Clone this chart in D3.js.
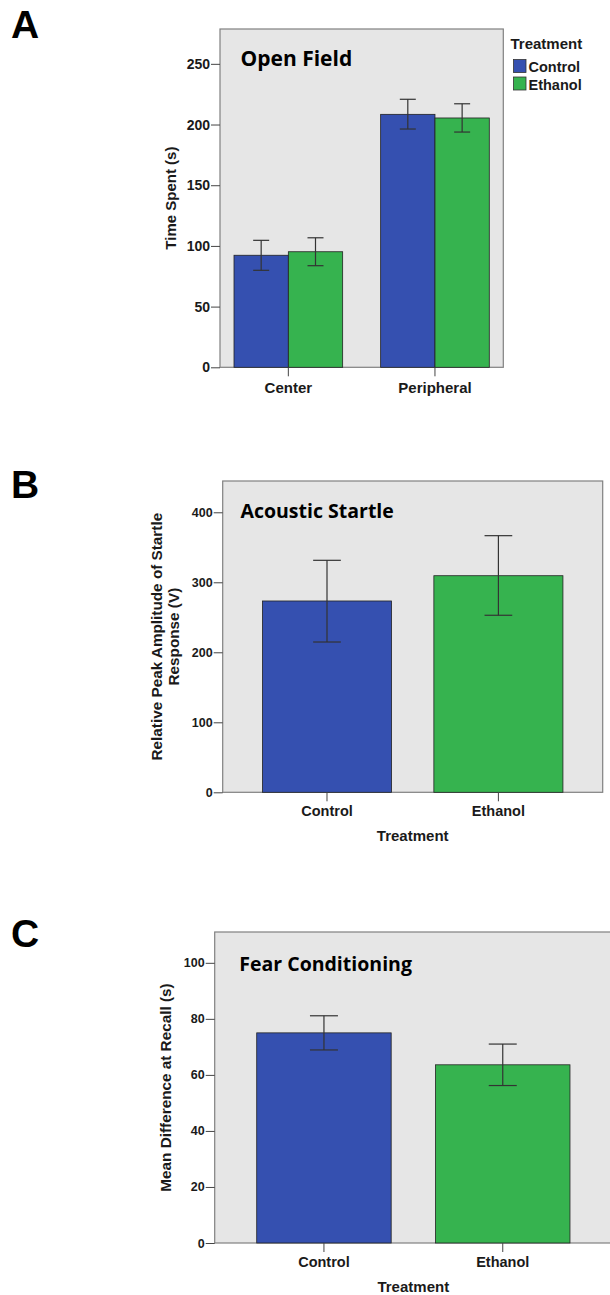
<!DOCTYPE html>
<html>
<head>
<meta charset="utf-8">
<script src="https://cdn.jsdelivr.net/npm/d3@7"></script>
<style>
  html, body { margin: 0; padding: 0; background: #fff; }
  svg { display: block; }
</style>
</head>
<body>
<svg id="fig" width="610" height="1295"></svg>
<script>
// ---------- data ----------
const treatments = ["Control", "Ethanol"];
const colors = ["#3550b0", "#36b34f"];

// Panel A: Open Field
const zonesA = ["Center", "Peripheral"];
const controlMeanA = [92.3, 208.4];
const controlLowA  = [79.9, 196.3];
const controlHighA = [104.6, 220.8];
const ethanolMeanA = [95.2, 205.4];
const ethanolLowA  = [83.7, 193.8];
const ethanolHighA = [106.7, 217.1];
const ticksA = [0, 50, 100, 150, 200, 250];

// Panel B: Acoustic Startle
const meanB = [273.3, 309.4];
const lowB  = [214.7, 252.9];
const highB = [331.4, 366.6];
const ticksB = [0, 100, 200, 300, 400];

// Panel C: Fear Conditioning
const meanC = [75.0, 63.6];
const lowC  = [68.9, 56.2];
const highC = [81.1, 71.0];
const ticksC = [0, 20, 40, 60, 80, 100];

// ---------- drawing ----------
const svg = d3.select("#fig");
const AX = "'Liberation Sans', Arial, sans-serif";
const TT = "'Open Sans', 'Noto Sans', sans-serif";
const BG = "#e6e6e6", FRAME = "#808080", INK = "#1a1a1a";

function frame(g, x0, y0, x1, y1) {
  g.append("rect").attr("x", x0).attr("y", y0)
    .attr("width", x1 - x0).attr("height", y1 - y0)
    .attr("fill", BG).attr("stroke", FRAME).attr("stroke-width", 1.2);
}

function yAxis(g, y, x0, ticks, fs) {
  const ax = g.append("g").attr("transform", `translate(${x0},0)`)
    .call(d3.axisLeft(y).tickValues(ticks).tickSize(9).tickPadding(1).tickFormat(d3.format("d")));
  ax.select(".domain").remove();
  ax.selectAll("line").attr("stroke", "#444");
  ax.selectAll("text").attr("font-family", AX).attr("font-weight", "bold")
    .attr("font-size", fs).attr("fill", INK);
}

function xAxis(g, x, yb, fs, pad) {
  const ax = g.append("g").attr("transform", `translate(0,${yb})`)
    .call(d3.axisBottom(x).tickSize(9).tickSizeOuter(0).tickPadding(pad));
  ax.select(".domain").remove();
  ax.selectAll("line").attr("stroke", "#444");
  ax.selectAll("text").attr("font-family", AX).attr("font-weight", "bold")
    .attr("font-size", fs).attr("fill", INK);
}

function errBar(g, cx, yLo, yHi, cap) {
  const e = g.append("g").attr("stroke", "#333").attr("stroke-width", 1.2).attr("fill", "none");
  e.append("line").attr("x1", cx).attr("x2", cx).attr("y1", yLo).attr("y2", yHi);
  e.append("line").attr("x1", cx - cap / 2).attr("x2", cx + cap / 2).attr("y1", yLo).attr("y2", yLo);
  e.append("line").attr("x1", cx - cap / 2).attr("x2", cx + cap / 2).attr("y1", yHi).attr("y2", yHi);
}

function panelLetter(txt, x, y) {
  svg.append("text").attr("x", x).attr("y", y).text(txt)
    .attr("font-family", AX).attr("font-weight", "bold").attr("font-size", 39).attr("fill", "#000");
}

function title(g, txt, x, y, fs) {
  g.append("text").attr("x", x).attr("y", y).text(txt)
    .attr("font-family", TT).attr("font-weight", "bold").attr("font-size", fs).attr("fill", "#000");
}

function yTitle(g, lines, cxs, cy, fs) {
  lines.forEach((t, i) => {
    g.append("text").attr("transform", `translate(${cxs[i]},${cy}) rotate(-90)`)
      .attr("text-anchor", "middle").attr("dy", "0.35em").text(t)
      .attr("font-family", AX).attr("font-weight", "bold").attr("font-size", fs).attr("fill", INK);
  });
}

// ===== Panel A =====
(function () {
  const g = svg.append("g");
  const L = 220, R = 503.3, T = 29, B = 367.3;
  frame(g, L, T, R, B);
  const y = d3.scaleLinear().domain([0, 278.7]).range([B, T]);
  const x = d3.scaleBand().domain(zonesA).range([L, R]).paddingInner(0.259).paddingOuter(0.0955);
  const xs = d3.scaleBand().domain(treatments).range([0, x.bandwidth()]).padding(0);
  const rows = zonesA.map((z, i) => ({
    zone: z,
    vals: [
      { t: "Control", m: controlMeanA[i], lo: controlLowA[i], hi: controlHighA[i] },
      { t: "Ethanol", m: ethanolMeanA[i], lo: ethanolLowA[i], hi: ethanolHighA[i] }
    ]
  }));
  rows.forEach(r => {
    r.vals.forEach((v, j) => {
      g.append("rect")
        .attr("x", x(r.zone) + xs(v.t)).attr("y", y(v.m))
        .attr("width", xs.bandwidth()).attr("height", y(0) - y(v.m))
        .attr("fill", colors[j]).attr("stroke", "#222").attr("stroke-width", 0.8);
    });
    r.vals.forEach(v => {
      errBar(g, x(r.zone) + xs(v.t) + xs.bandwidth() / 2, y(v.lo), y(v.hi), 16);
    });
  });
  yAxis(g, y, L, ticksA, 14);
  xAxis(g, x, B, 15, 6.5);
  yTitle(g, ["Time Spent (s)"], [171], (T + B) / 2, 15);
  title(g, "Open Field", 240.5, 65.5, 21);
  // legend
  g.append("text").attr("x", 510.5).attr("y", 49.3).text("Treatment")
    .attr("font-family", AX).attr("font-weight", "bold").attr("font-size", 15).attr("fill", INK);
  treatments.forEach((t, i) => {
    g.append("rect").attr("x", 513.5).attr("y", 59.5 + i * 17.5).attr("width", 12.5).attr("height", 13)
      .attr("fill", colors[i]).attr("stroke", "#333").attr("stroke-width", 0.8);
    g.append("text").attr("x", 528.5).attr("y", 71.7 + i * 18.2).text(t)
      .attr("font-family", AX).attr("font-weight", "bold").attr("font-size", 14.5).attr("fill", INK);
  });
  panelLetter("A", 11, 38.3);
})();

// ===== Panel B =====
(function () {
  const g = svg.append("g");
  const L = 222.7, R = 602.7, T = 481, B = 792.3;
  frame(g, L, T, R, B);
  const y = d3.scaleLinear().domain([0, 444.7]).range([B, T]);
  const x = d3.scaleBand().domain(treatments).range([L, R]).paddingInner(0.247).paddingOuter(0.232);
  treatments.forEach((t, i) => {
    g.append("rect").attr("x", x(t)).attr("y", y(meanB[i]))
      .attr("width", x.bandwidth()).attr("height", y(0) - y(meanB[i]))
      .attr("fill", colors[i]).attr("stroke", "#222").attr("stroke-width", 0.8);
  });
  treatments.forEach((t, i) => {
    errBar(g, x(t) + x.bandwidth() / 2, y(lowB[i]), y(highB[i]), 27.7);
  });
  yAxis(g, y, L, ticksB, 12.5);
  xAxis(g, x, B, 14.5, 4.3);
  g.append("text").attr("x", (L + R) / 2).attr("y", 840.7).attr("text-anchor", "middle").text("Treatment")
    .attr("font-family", AX).attr("font-weight", "bold").attr("font-size", 15).attr("fill", INK);
  yTitle(g, ["Relative Peak Amplitude of Startle", "Response (V)"], [156.7, 173.3], (T + B) / 2, 15.3);
  title(g, "Acoustic Startle", 240.5, 518.3, 19.5);
  panelLetter("B", 11, 498.3);
})();

// ===== Panel C =====
(function () {
  const g = svg.append("g");
  const L = 214.7, R = 612, T = 932, B = 1243;
  frame(g, L, T, R, B);
  const y = d3.scaleLinear().domain([0, 111]).range([B, T]);
  const x = d3.scaleBand().domain(treatments).range([L, R]).paddingInner(0.248).paddingOuter(0.235);
  treatments.forEach((t, i) => {
    g.append("rect").attr("x", x(t)).attr("y", y(meanC[i]))
      .attr("width", x.bandwidth()).attr("height", y(0) - y(meanC[i]))
      .attr("fill", colors[i]).attr("stroke", "#222").attr("stroke-width", 0.8);
  });
  treatments.forEach((t, i) => {
    errBar(g, x(t) + x.bandwidth() / 2, y(lowC[i]), y(highC[i]), 28);
  });
  yAxis(g, y, L, ticksC, 12.5);
  xAxis(g, x, B, 14.5, 4.6);
  g.append("text").attr("x", 413.3).attr("y", 1291.7).attr("text-anchor", "middle").text("Treatment")
    .attr("font-family", AX).attr("font-weight", "bold").attr("font-size", 15).attr("fill", INK);
  yTitle(g, ["Mean Difference at Recall (s)"], [166], (T + B) / 2, 15.3);
  title(g, "Fear Conditioning", 239.3, 970.7, 19.5);
  panelLetter("C", 11, 946.7);
})();
</script>
</body>
</html>
